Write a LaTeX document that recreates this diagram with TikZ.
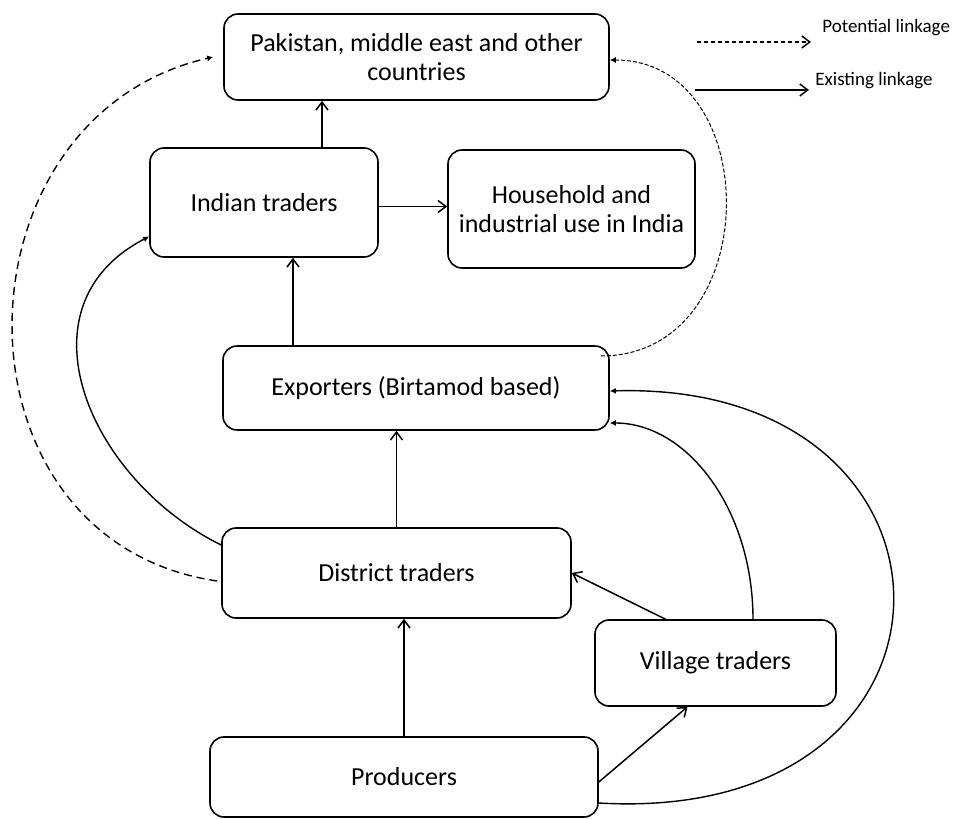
\documentclass[tikz,border=0pt]{standalone}
\usepackage{fontspec}
\setmainfont{Carlito}
\usetikzlibrary{arrows.meta}
\tikzset{
  box/.style={draw, line width=0.8pt, rounded corners=7pt, align=center,
    inner sep=0pt, font=\fontsize{13}{14.5}\selectfont},
  link/.style={line width=0.75pt, -{Straight Barb[length=4pt,width=6pt]}},
  curvelink/.style={line width=0.7pt, -{Latex[length=3pt,width=3pt]}},
  potential/.style={curvelink, dash pattern=on 4pt off 2.5pt},
  legendtext/.style={anchor=west, inner sep=0pt, font=\fontsize{9.5}{10}\selectfont},
}
\begin{document}
\begin{tikzpicture}[x=0.5pt,y=-0.5pt]
\useasboundingbox (0,0) rectangle (955,819);
% boxes
\node[box, minimum width=192.5pt, minimum height=43pt] (pak) at (416.5,57) {Pakistan, middle east and other\\countries};
\node[box, minimum width=114pt, minimum height=54.5pt] (ind) at (264,202.5) {Indian traders};
\node[box, minimum width=123.5pt, minimum height=59pt] (hh) at (571.5,209) {Household and\\industrial use in India};
\node[box, minimum width=193pt, minimum height=42pt] (exp) at (416,388) {Exporters (Birtamod based)};
\node[box, minimum width=174.5pt, minimum height=45pt] (dist) at (396.5,573) {District traders};
\node[box, minimum width=120.5pt, minimum height=43pt] (vill) at (715.5,663) {Village traders};
\node[box, minimum width=194pt, minimum height=40pt] (prod) at (404,777) {Producers};
% straight links
\draw[link] ([xshift=29pt]ind.north) -- ([xshift=29pt]ind.north |- pak.south);
\draw[link] ([yshift=-2pt]ind.east) -- ([yshift=-2pt]ind.east -| hh.west);
\draw[link] ([xshift=14.5pt]ind.south |- exp.north) -- ([xshift=14.5pt]ind.south);
\draw[link] (dist.north) -- (dist.north |- exp.south);
\draw[link] (prod.north) -- (prod.north |- dist.south);
\draw[link] ([xshift=-25pt]vill.north) -- (dist.east);
\draw[link] ([yshift=-2.5pt]prod.east) -- ([xshift=-14pt]vill.south);
% curved links
\draw[curvelink] ([xshift=18.75pt]vill.north) .. controls +(0,-109) and +(78,0) .. ([yshift=-17.5pt]exp.east);
\draw[curvelink] ([yshift=-13pt]prod.east) .. controls +(392,23) and +(378,-11) .. ([yshift=-1.5pt]exp.east);
\draw[curvelink] ([yshift=14pt]dist.west) .. controls +(-132,-65) and +(-135,70) .. ([yshift=-17pt]ind.west);
\draw[potential] ([xshift=-2pt,yshift=-4pt]dist.west) .. controls +(-275,-40) and +(-265,60) .. ([xshift=-5pt]pak.west);
\draw[curvelink, line width=0.5pt, dash pattern=on 2pt off 1pt] ([xshift=-4.5pt,yshift=16pt]exp.east) .. controls +(165,0) and +(156,0) .. ([yshift=-1.5pt]pak.east);
% legend
\node[legendtext] (potl) at (822,28) {Potential linkage};
\node[legendtext] (exil) at (815,81) {Existing linkage};
\coordinate (potA) at (697,42);
\coordinate (potB) at (811,42);
\coordinate (exiA) at (695,90);
\coordinate (exiB) at (809,90);
\draw[link, dash pattern=on 2pt off 1.5pt] (potA) -- (potB);
\draw[link] (exiA) -- (exiB);
\end{tikzpicture}
\end{document}
